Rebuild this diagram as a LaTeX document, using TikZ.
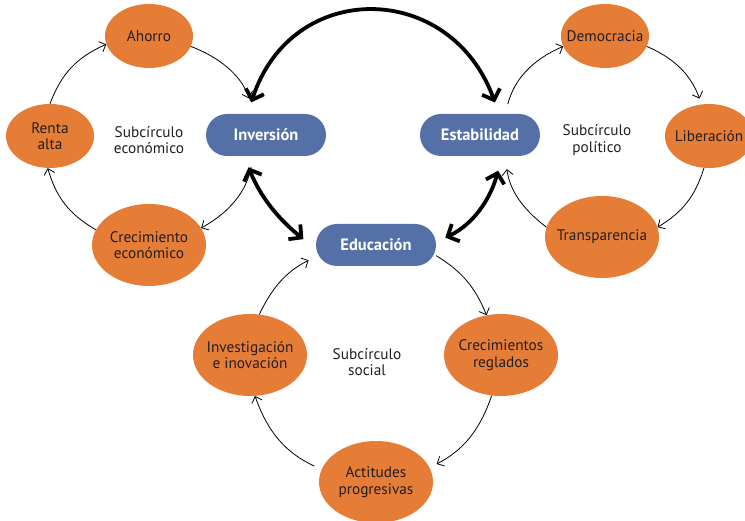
\documentclass[tikz,border=0pt]{standalone}
\usepackage{fontspec}
\setmainfont{PT Sans}
\usetikzlibrary{shapes.geometric, arrows.meta}

\definecolor{naranja}{RGB}{230,125,55}
\definecolor{azul}{RGB}{84,112,167}
\definecolor{texto}{RGB}{35,31,32}

\begin{document}
\begin{tikzpicture}
      [
        x=1pt, y=1pt,
        every node/.style={font=\fontsize{15.3}{16.5}\selectfont, text=texto},
        elip/.style={ellipse, fill=naranja, inner xsep=-20pt, inner ysep=0pt,
          align=center, minimum width=88pt, minimum height=64pt},
        elipG/.style={elip, minimum width=114pt, minimum height=82pt},
        caja/.style={rectangle, rounded corners=21pt, fill=azul, text=white,
          minimum width=120pt, minimum height=42pt,
          font=\fontsize{16.5}{18}\selectfont\bfseries},
        sub/.style={align=center},
        flecha/.style={line width=0.8pt, ->, >={Straight Barb[length=5.5pt,width=11pt]}},
        flechaG/.style={line width=3.8pt, <->, >={Straight Barb[length=9pt,width=19pt]}}
      ]
      \useasboundingbox (0,0) rectangle (745,521);
      % centres
      \node [caja] (inv) at (266,386) {Inversión};
      \node [caja] (est) at (480,386) {Estabilidad};
      \node [caja] (edu) at (376,276) {Educación};
      % subcirculo economico
      \node [elip] (ahorro) at (149,485) {Ahorro};
      \node [elip] (renta) at (50,385) {Renta\\alta};
      \node [elipG] (crecE) at (149,276) {Crecimiento\\económico};
      \node [sub] (subE) at (149,381) {Subcírculo\\económico};
      % subcirculo politico
      \node [elip] (demo) at (605,485) {Democracia};
      \node [elip] (lib) at (709,385) {Liberación};
      \node [elipG] (transp) at (602,284) {Transparencia};
      \node [sub] (subP) at (597,381) {Subcírculo\\político};
      % subcirculo social
      \node [elipG] (invest) at (250,166) {Investigación\\e inovación};
      \node [elipG] (crecR) at (501,166) {Crecimientos\\reglados};
      \node [elipG] (acti) at (376,39) {Actitudes\\progresivas};
      \node [sub] (subS) at (367,159) {Subcírculo\\social};
      % economic cycle
      \draw [flecha] (renta.north) to [bend left=23] (ahorro.191);
      \draw [flecha, shorten >=16pt] (ahorro.-14) to [bend left=26] (inv.120);
      \draw [flecha, shorten <=11pt] (inv.239) to [bend left=25] (crecE.18);
      \draw [flecha] (crecE.164) to [bend left=22] (renta.266);
      % political cycle
      \draw [flecha, shorten <=10pt] (est.40) to [bend left=26] (demo.194);
      \draw [flecha, shorten >=6pt] (demo.-14) to [bend left=23] (lib.103);
      \draw [flecha] (lib.261) to [bend left=21] (transp.10);
      \draw [flecha, shorten >=13pt] (transp.170) to [bend left=23] (est.-40);
      % social cycle
      \draw [flecha] (edu.-10) to [bend left=18] (crecR.110);
      \draw [flecha, shorten >=8pt] (crecR.257) to [bend left=22] (acti.15);
      \draw [flecha, shorten <=8pt] (acti.167) to [bend left=23] (invest.277);
      \draw [flecha, shorten >=8pt] (invest.77) to [bend left=19] (edu.191);
      % main links
      \draw [flechaG, shorten <=12pt, shorten >=12pt]
      (inv.131) to [out=72, in=110, looseness=1.45] (est.48);
      \draw [flechaG, shorten <=12pt, shorten >=16pt]
      (inv.224) to [out=-68, in=141] (edu.184);
      \draw [flechaG, shorten <=15pt, shorten >=10pt]
      (est.316) to [out=-105, in=25] (edu.3);
\end{tikzpicture}
\end{document}
